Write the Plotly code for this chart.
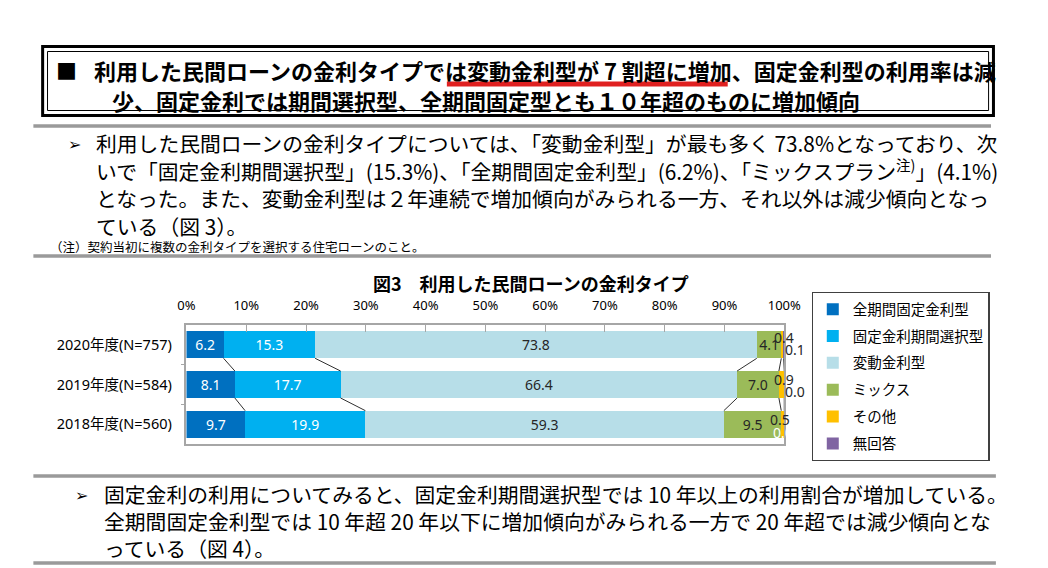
import plotly.graph_objects as go

# ---------------- data ----------------
years = ["2020年度(N=757)", "2019年度(N=584)", "2018年度(N=560)"]
year_pos = [2, 1, 0]
series_names = ["全期間固定金利型", "固定金利期間選択型", "変動金利型", "ミックス", "その他", "無回答"]
s_zenkikan = [6.2, 8.1, 9.7]
s_kikan = [15.3, 17.7, 19.9]
s_hendo = [73.8, 66.4, 59.3]
s_mix = [4.1, 7.0, 9.5]
s_other = [0.4, 0.9, 0.5]
s_noans = [0.1, 0.0, 0.0]
x_ticks = [0, 10, 20, 30, 40, 50, 60, 70, 80, 90, 100]

series = [s_zenkikan, s_kikan, s_hendo, s_mix, s_other, s_noans]
colors = ["#0070C0", "#00B0F0", "#B7DEE8", "#9BBB59", "#FFC000", "#8064A2"]
text_colors = ["#FFFFFF", "#FFFFFF", "#262626", "#262626", "#262626", "#262626"]
inside_label = [True, True, True, True, False, False]

W, H = 1048, 568
def px(x):
    return x / W
def py(y):
    return 1 - y / H

# normalise rows to 100 % (100 % stacked bar)
totals = [sum(s[i] for s in series) for i in range(3)]
norm = [[s[i] / totals[i] * 100 for i in range(3)] for s in series]

fig = go.Figure()
BARW = 0.68
for k, name in enumerate(series_names):
    fig.add_trace(go.Bar(
        name=name, orientation="h", y=year_pos, x=norm[k],
        width=BARW, marker=dict(color=colors[k], line=dict(width=0)),
        text=[f"{v:.1f}" for v in series[k]] if inside_label[k] else None,
        textposition="inside" if inside_label[k] else "none",
        insidetextanchor="middle", textangle=0,
        textfont=dict(color=text_colors[k], size=14, family="Noto Sans"),
        hoverinfo="skip", legendgroup=name,
    ))

# series lines between adjacent bars
for k in range(5):
    cum = [sum(norm[j][i] for j in range(k + 1)) for i in range(3)]
    for i in range(2):
        fig.add_trace(go.Scatter(
            x=[cum[i], cum[i + 1]],
            y=[year_pos[i] - BARW / 2, year_pos[i + 1] + BARW / 2],
            mode="lines", line=dict(color="#303030", width=1),
            showlegend=False, hoverinfo="skip",
        ))

annotations = []
# small-segment labels (その他, 無回答)
other_dy = [0.19, 0.13, 0.13]
noans_dy = [-0.13, -0.18, -0.2]
noans_col = ["#262626", "#262626", "#FFFFFF"]
for i in range(3):
    cum4 = sum(norm[j][i] for j in range(4))
    mid_other = cum4 + norm[4][i] / 2
    annotations.append(dict(x=mid_other, y=year_pos[i] + other_dy[i], xref="x", yref="y",
                            text=f"{s_other[i]:.1f}", showarrow=False, xshift=(-3 if i == 2 else 2),
                            font=dict(size=14, color="#262626", family="Noto Sans")))
    end = sum(norm[j][i] for j in range(6))
    annotations.append(dict(x=end if i < 2 else mid_other, y=year_pos[i] + noans_dy[i], xref="x", yref="y",
                            text=f"{s_noans[i]:.1f}", showarrow=False,
                            xanchor="left" if i < 2 else "center", xshift=(-1 if i < 2 else 0),
                            font=dict(size=14, color=noans_col[i], family="Noto Sans")))

JP = "Noto Sans CJK JP"
def txt(x, y, s, size, bold=False, anchor="left", color="#000000", family=JP):
    annotations.append(dict(x=px(x), y=py(y), xref="paper", yref="paper", text=s,
                            showarrow=False, xanchor=anchor, yanchor="middle",
                            font=dict(size=size, color=color, family=family,
                                      weight="bold" if bold else "normal")))

# heading box text
txt(46, 70, "■", 21, True)
txt(85, 70, "利用した民間ローンの金利タイプでは変動金利型が 7 割超に増加、固定金利型の利用率は減", 22, True)
txt(104, 100, "少、固定金利では期間選択型、全期間固定型とも１０年超のものに増加傾向", 22, True)

# paragraph 1
txt(58, 143, "➢", 16)
txt(87, 143, "利用した民間ローンの金利タイプについては、「変動金利型」が最も多く 73.8%となっており、次", 20.8)
txt(87, 170, "いで「固定金利期間選択型」(15.3%)、「全期間固定金利型」(6.2%)、「ミックスプラン<sup>注)</sup>」(4.1%)", 20.8)
txt(87, 198, "となった。また、変動金利型は２年連続で増加傾向がみられる一方、それ以外は減少傾向となっ", 20.8)
txt(87, 226, "ている（図 3）。", 20.8)
txt(40, 246, "（注）契約当初に複数の金利タイプを選択する住宅ローンのこと。", 12.5)

# chart title
txt(535, 283, "図3　利用した民間ローンの金利タイプ", 18, True, anchor="center")

# paragraph 2
txt(66, 494, "➢", 16)
txt(95, 494, "固定金利の利用についてみると、固定金利期間選択型では 10 年以上の利用割合が増加している。", 20.8)
txt(95, 521, "全期間固定金利型では 10 年超 20 年以下に増加傾向がみられる一方で 20 年超では減少傾向とな", 20.8)
txt(95, 548, "っている（図 4）。", 20.8)

shapes = []
def hline(y, x0, x1, color, width):
    shapes.append(dict(type="line", xref="paper", yref="paper", x0=px(x0), x1=px(x1),
                       y0=py(y), y1=py(y), line=dict(color=color, width=width)))
# heading double border
shapes.append(dict(type="rect", xref="paper", yref="paper", x0=px(34.5), x1=px(1009.5),
                   y0=py(46.5), y1=py(115.5), line=dict(color="#000000", width=3)))
shapes.append(dict(type="rect", xref="paper", yref="paper", x0=px(39.5), x1=px(1004.5),
                   y0=py(51.5), y1=py(110.5), line=dict(color="#000000", width=1)))
# red underline
shapes.append(dict(type="line", xref="paper", yref="paper", x0=px(449), x1=px(737),
                   y0=py(84), y1=py(84), line=dict(color="#E02020", width=5)))
# gray rules
hline(126, 25, 1007, "#9A9A9A", 3.5)
hline(256, 25, 1007, "#9A9A9A", 3.5)
hline(476, 25, 1012, "#9A9A9A", 3.5)
hline(563, 25, 1012, "#9A9A9A", 3.5)

fig.update_layout(
    width=W, height=H, margin=dict(l=0, r=0, t=0, b=0),
    paper_bgcolor="#FFFFFF", plot_bgcolor="#FFFFFF",
    barmode="stack", bargap=0.32,
    uniformtext=dict(minsize=14, mode="show"),
    annotations=annotations, shapes=shapes,
    legend=dict(x=px(823), y=py(292), xanchor="left", yanchor="top",
                bordercolor="#404040", borderwidth=1.2, bgcolor="#FFFFFF",
                font=dict(size=14.5, family=JP, color="#000000"),
                traceorder="grouped", tracegroupgap=5, itemclick=False, itemwidth=30),
    xaxis=dict(domain=[px(182), px(795)], range=[0, 100], side="top",
               tickvals=x_ticks, ticktext=[f"{t}%" for t in x_ticks],
               ticks="inside", ticklen=7, tickcolor="#A6A6A6",
               showline=True, linecolor="#A6A6A6", linewidth=1.5, mirror=True,
               showgrid=False, zeroline=False, ticklabelstandoff=8,
               tickfont=dict(size=13, family="Noto Sans, " + JP, color="#000000")),
    yaxis=dict(domain=[py(444), py(325)], range=[-0.5, 2.5],
               tickvals=year_pos, ticktext=years, ticks="",
               showline=True, linecolor="#A6A6A6", linewidth=1.5, mirror=True,
               showgrid=False, zeroline=False, ticklabelstandoff=10,
               minor=dict(tickvals=[0.5, 1.5], ticks="outside", ticklen=4, tickcolor="#A6A6A6"),
               tickfont=dict(size=14.5, family="Noto Sans, " + JP, color="#000000")),
)

fig.write_html("out.html")
